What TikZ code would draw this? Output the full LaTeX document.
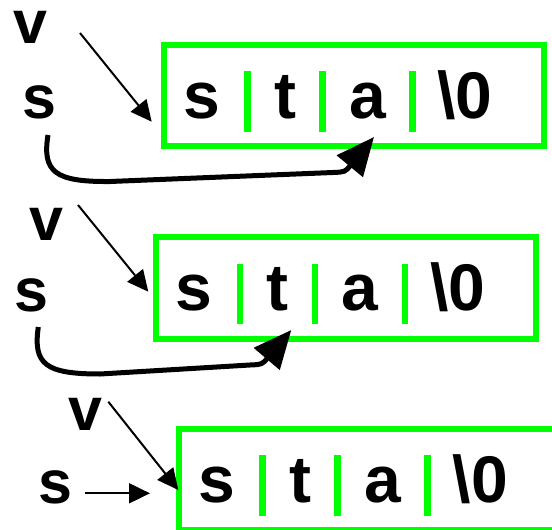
\documentclass[tikz,border=0pt]{standalone}
\usepackage{fontspec}
\setmainfont{Liberation Sans}
\usetikzlibrary{arrows.meta}
\definecolor{cellgreen}{RGB}{0,255,0}

% One string "sta\0" in a green box; #1 id, #2/#3 top-left of the box, #4 box width
\newcommand\strpanel[4]{%
  \node[strbox, minimum width=#4pt] (box#1) at (#2,#3) {};
  \begin{scope}[shift={(#2,#3)}]
    \node[charname] (c#1s) at (37.8,73.6) {s};
    \node[charname] (c#1t) at (121.3,73.6) {t};
    \node[charname] (c#1a) at (203.8,73.6) {a};
    \node[charname] (c#1z) at (301.3,73.6) {\textbackslash 0};
    \draw[divider] (83.6,26.3) -- (83.6,87);
    \draw[divider] (158.6,26.3) -- (158.6,87);
    \draw[divider] (248.6,26.3) -- (248.6,87);
  \end{scope}
}

\begin{document}
\begin{tikzpicture}[x=1pt,y=-1pt,
  ptrname/.style={inner sep=0pt, outer sep=0pt, anchor=base,
    font=\fontsize{61}{61}\selectfont\bfseries},
  charname/.style={inner sep=0pt, outer sep=0pt, anchor=base,
    font=\fontsize{66}{66}\selectfont\bfseries},
  strbox/.style={draw=cellgreen, line width=6pt, inner sep=0pt, outer sep=0pt,
    anchor=north west, minimum height=101.6pt},
  divider/.style={draw=cellgreen, line width=6.5pt},
  thinptr/.style={line width=2pt, -{Triangle[length=21pt,width=20pt]}},
  thickptr/.style={line width=5pt, -{Triangle[length=38pt,width=33pt]}}]

\useasboundingbox (0,0) rectangle (552,530);

% ---- first state: s points at 'a'
\strpanel{1}{163.7}{44.7}{380.3}
\node[ptrname] (v1) at (30,43) {v};
\node[ptrname] (s1) at (39,118) {s};
\coordinate (v1from) at (80,33);
\coordinate (v1to) at (151.7,121.7);
\coordinate (s1from) at (48,135);
\coordinate (s1to) at (374,137);
\draw[thinptr] (v1from) -- (v1to);
\draw[thickptr] (s1from) .. controls (42,172) and (55,182) .. (110,181.5)
  -- (333,172.5) .. controls (345,172) .. (s1to);

% ---- second state: s points at 't'
\strpanel{2}{156.3}{237.2}{379.7}
\node[ptrname] (v2) at (46.5,240) {v};
\node[ptrname] (s2) at (31,311) {s};
\coordinate (v2from) at (78,205);
\coordinate (v2to) at (148.3,291.7);
\coordinate (s2from) at (38.3,327);
\coordinate (s2to) at (291.3,330);
\draw[thinptr] (v2from) -- (v2to);
\draw[thickptr] (s2from) .. controls (33,364) and (45,374) .. (100,374)
  -- (250,365) .. controls (262,364.5) .. (s2to);

% ---- third state: s and v both at the start
\strpanel{3}{179}{428.8}{400}
\node[ptrname] (v3) at (85,430) {v};
\node[ptrname] (s3) at (55.5,503) {s};
\coordinate (v3from) at (108.3,401.7);
\coordinate (v3to) at (178.3,490);
\coordinate (s3from) at (85,493.3);
\coordinate (s3to) at (150,493.3);
\draw[thinptr] (v3from) -- (v3to);
\draw[thinptr] (s3from) -- (s3to);
\end{tikzpicture}
\end{document}
